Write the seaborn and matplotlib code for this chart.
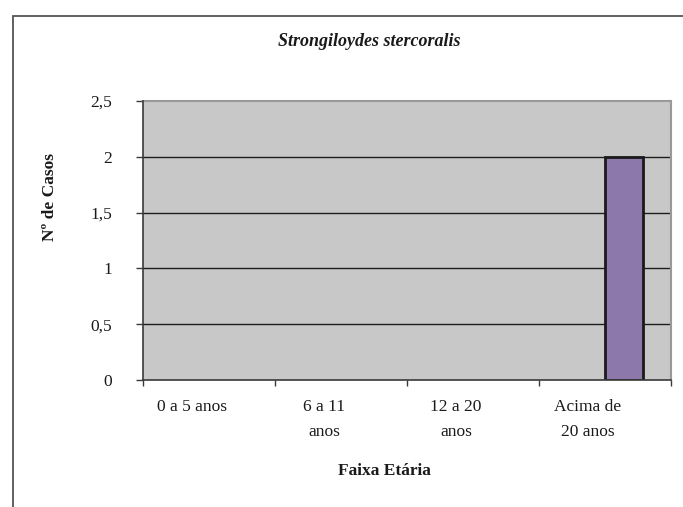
import matplotlib
matplotlib.use("Agg")
import matplotlib.pyplot as plt
import matplotlib.transforms as mtransforms
from matplotlib.patches import Rectangle
from matplotlib.ticker import FixedLocator
import seaborn as sns
import pandas as pd

# Faixas etárias e número de casos
faixas = ["0 a 5 anos", "6 a 11\nanos", "12 a 20\nanos", "Acima de\n20 anos"]
series = ["outros", "Strongiloydes stercoralis"]
casos_outros = [0, 0, 0, 0]
casos_strongiloydes = [0, 0, 0, 2]
yticks = [0, 0.5, 1, 1.5, 2, 2.5]
ytick_labels = ["0", "0,5", "1", "1,5", "2", "2,5"]

df = pd.DataFrame({
    "faixa": faixas * 2,
    "serie": [series[0]] * len(faixas) + [series[1]] * len(faixas),
    "casos": casos_outros + casos_strongiloydes,
})

sns.set_theme(style="white")
plt.rcParams["font.family"] = ["Liberation Serif", "DejaVu Serif"]

W, H = 683, 507
fig = plt.figure(figsize=(W / 100, H / 100), dpi=100)
ax = fig.add_axes([143 / W, 127 / H, 528 / W, 279 / H])
ax.set_facecolor("#C8C8C8")

sns.barplot(
    data=df, x="faixa", y="casos", hue="serie", order=faixas,
    hue_order=series, palette=["#C8C8C8", "#8A70B2"], width=0.571,
    gap=0, errorbar=None, edgecolor="#1a1a1a", linewidth=2,
    legend=False, ax=ax, zorder=3,
)
# barras de altura zero não aparecem
for container in ax.containers:
    for bar in container:
        if bar.get_height() == 0:
            bar.set_visible(False)

ax.set_ylim(0, 2.5)
ax.set_xlim(-0.5, len(faixas) - 0.5)
ax.set_yticks(yticks)
ax.set_yticklabels(ytick_labels)

# linhas de grade horizontais
for y in yticks[1:-1]:
    ax.axhline(y, color="#1e1e1e", lw=1.0, zorder=1)

for side in ["top", "right"]:
    ax.spines[side].set_color("#999999")
    ax.spines[side].set_linewidth(1.5)
for side in ["left", "bottom"]:
    ax.spines[side].set_color("#3a3a3a")
    ax.spines[side].set_linewidth(1.2)
    ax.spines[side].set_zorder(4)

# marcas do eixo x nos limites das categorias
ax.xaxis.set_minor_locator(FixedLocator([i - 0.5 for i in range(len(faixas) + 1)]))
ax.tick_params(axis="x", which="minor", bottom=True, length=4.5, width=1, color="#3a3a3a", direction="out")
ax.tick_params(axis="x", which="major", bottom=True, length=0, pad=14, labelsize=12.5, labelcolor="#1a1a1a")
ax.tick_params(axis="y", left=True, length=5, width=1, color="#3a3a3a", direction="out", pad=17,
               labelsize=12.5, labelcolor="#1a1a1a")

offset = mtransforms.ScaledTranslation(-17 / 100, 0, fig.dpi_scale_trans)
for lab in ax.get_xticklabels():
    lab.set_transform(lab.get_transform() + offset)
    lab.set_linespacing(1.75)
    lab.set_verticalalignment("top")

ax.set_xlabel("Faixa Etária", fontsize=12.5, fontweight="bold", color="#1a1a1a")
ax.xaxis.set_label_coords((384 - 143) / 528, -(463 - 380) / 279)
ax.set_ylabel("Nº de Casos", fontsize=12.5, fontweight="bold", color="#1a1a1a")
ax.yaxis.set_label_coords((58 - 143) / 528, (380 - 197) / 279)

fig.text(369 / W, 1 - 42 / H, "Strongiloydes stercoralis", ha="center", va="center",
         fontsize=13, fontstyle="italic", fontweight="bold", color="#1a1a1a")

# moldura externa do gráfico
fig.add_artist(Rectangle((12.7 / W, -0.2), 1.2, 1.2 - 16 / H, transform=fig.transFigure,
                         fill=False, edgecolor="#555555", lw=1.3, clip_on=False))

fig.savefig("out.png", dpi=100, facecolor="white")
